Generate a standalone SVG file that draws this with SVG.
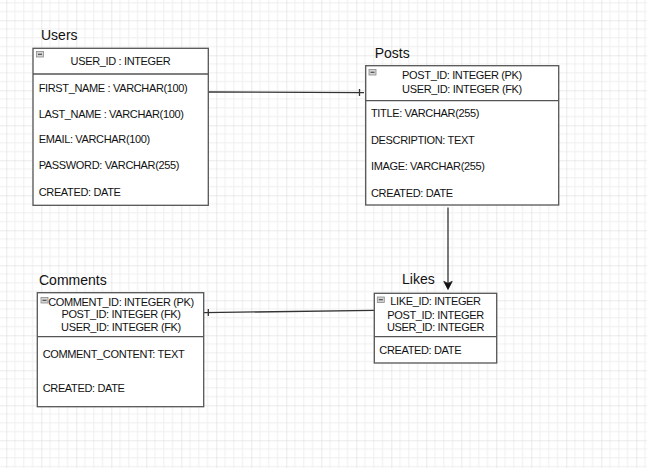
<svg xmlns="http://www.w3.org/2000/svg" width="647" height="468" viewBox="0 0 647 468">
<defs>
<pattern id="grid" x="6.3" y="20.3" width="35" height="35" patternUnits="userSpaceOnUse">
<path d="M8.75 0V35M17.5 0V35M26.25 0V35M0 8.75H35M0 17.5H35M0 26.25H35" stroke="#efefef" stroke-width="1" fill="none"/>
<path d="M0 0V35M0 0H35" stroke="#d6d6d6" stroke-width="1" fill="none"/>
</pattern>
<g id="minus">
<rect x="0" y="0" width="7" height="5.5" fill="#d4d4d4" stroke="#8a8a8a" stroke-width="0.8"/>
<line x1="1.5" y1="2.75" x2="5.5" y2="2.75" stroke="#333" stroke-width="1"/>
</g>
</defs>
<style>
.box{fill:#fff;stroke:#555;stroke-width:1.3}
.sep{stroke:#555;stroke-width:1.3;fill:none}
.title{font-family:"Liberation Sans",Arial,sans-serif;font-size:14px;fill:#111}
.t{font-family:"Liberation Sans",Arial,sans-serif;font-size:11px;letter-spacing:-0.35px;fill:#111}
.h{text-anchor:middle}
.conn{stroke:#333;stroke-width:1.3;fill:none}
</style>
<rect width="647" height="468" fill="#fff"/>
<rect width="647" height="468" fill="url(#grid)"/>

<g id="connectors">
<line class="conn" x1="208" y1="92" x2="364" y2="92.7"/>
<line class="conn" x1="359.5" y1="89" x2="359.5" y2="96"/>
<line class="conn" x1="448" y1="207.5" x2="448" y2="284"/>
<path d="M448 289.5L443.8 281.4L448 283.4L452.2 281.4Z" fill="#111" stroke="#111" stroke-width="0.8"/>
<line class="conn" x1="374" y1="310.3" x2="204" y2="312.7"/>
<line class="conn" x1="208.3" y1="309" x2="208.3" y2="316"/>
</g>

<g id="users">
<text class="title" x="41" y="39.5">Users</text>
<rect class="box" x="33" y="48.3" width="175.3" height="157"/>
<line class="sep" x1="33" y1="74" x2="208.3" y2="74"/>
<use href="#minus" x="36.5" y="51.5"/>
<text class="t h" x="120.5" y="65.3">USER_ID : INTEGER</text>
<text class="t" x="38.7" y="91.7">FIRST_NAME : VARCHAR(100)</text>
<text class="t" x="38.7" y="117.5">LAST_NAME : VARCHAR(100)</text>
<text class="t" x="38.7" y="143.4">EMAIL: VARCHAR(100)</text>
<text class="t" x="38.7" y="169.4">PASSWORD: VARCHAR(255)</text>
<text class="t" x="38.7" y="195.6">CREATED: DATE</text>
</g>

<g id="posts">
<text class="title" x="374.7" y="58.3">Posts</text>
<rect class="box" x="365.7" y="65.7" width="193" height="139.3"/>
<line class="sep" x1="365.7" y1="100.7" x2="558.7" y2="100.7"/>
<use href="#minus" x="369" y="69.5"/>
<text class="t h" x="462" y="79">POST_ID: INTEGER (PK)</text>
<text class="t h" x="462" y="93.3">USER_ID: INTEGER (FK)</text>
<text class="t" x="371" y="117.3">TITLE: VARCHAR(255)</text>
<text class="t" x="371" y="143.7">DESCRIPTION: TEXT</text>
<text class="t" x="371" y="170">IMAGE: VARCHAR(255)</text>
<text class="t" x="371" y="196.5">CREATED: DATE</text>
</g>

<g id="likes">
<text class="title" x="402" y="284.3">Likes</text>
<rect class="box" x="374.3" y="293.3" width="122.4" height="69.7"/>
<line class="sep" x1="374.3" y1="336.7" x2="496.7" y2="336.7"/>
<use href="#minus" x="377.3" y="297"/>
<text class="t h" x="435.5" y="305.3">LIKE_ID: INTEGER</text>
<text class="t h" x="435.5" y="318.7">POST_ID: INTEGER</text>
<text class="t h" x="435.5" y="330.5">USER_ID: INTEGER</text>
<text class="t" x="379.3" y="354">CREATED: DATE</text>
</g>

<g id="comments">
<text class="title" x="39" y="285">Comments</text>
<rect class="box" x="37.3" y="292.7" width="166.4" height="114"/>
<line class="sep" x1="37.3" y1="336.7" x2="203.7" y2="336.7"/>
<use href="#minus" x="41" y="297.5"/>
<text class="t h" x="121" y="305.7">COMMENT_ID: INTEGER (PK)</text>
<text class="t h" x="121" y="318.3">POST_ID: INTEGER (FK)</text>
<text class="t h" x="121" y="330.7">USER_ID: INTEGER (FK)</text>
<text class="t" x="42.7" y="357.7">COMMENT_CONTENT: TEXT</text>
<text class="t" x="42.7" y="392.3">CREATED: DATE</text>
</g>
</svg>
